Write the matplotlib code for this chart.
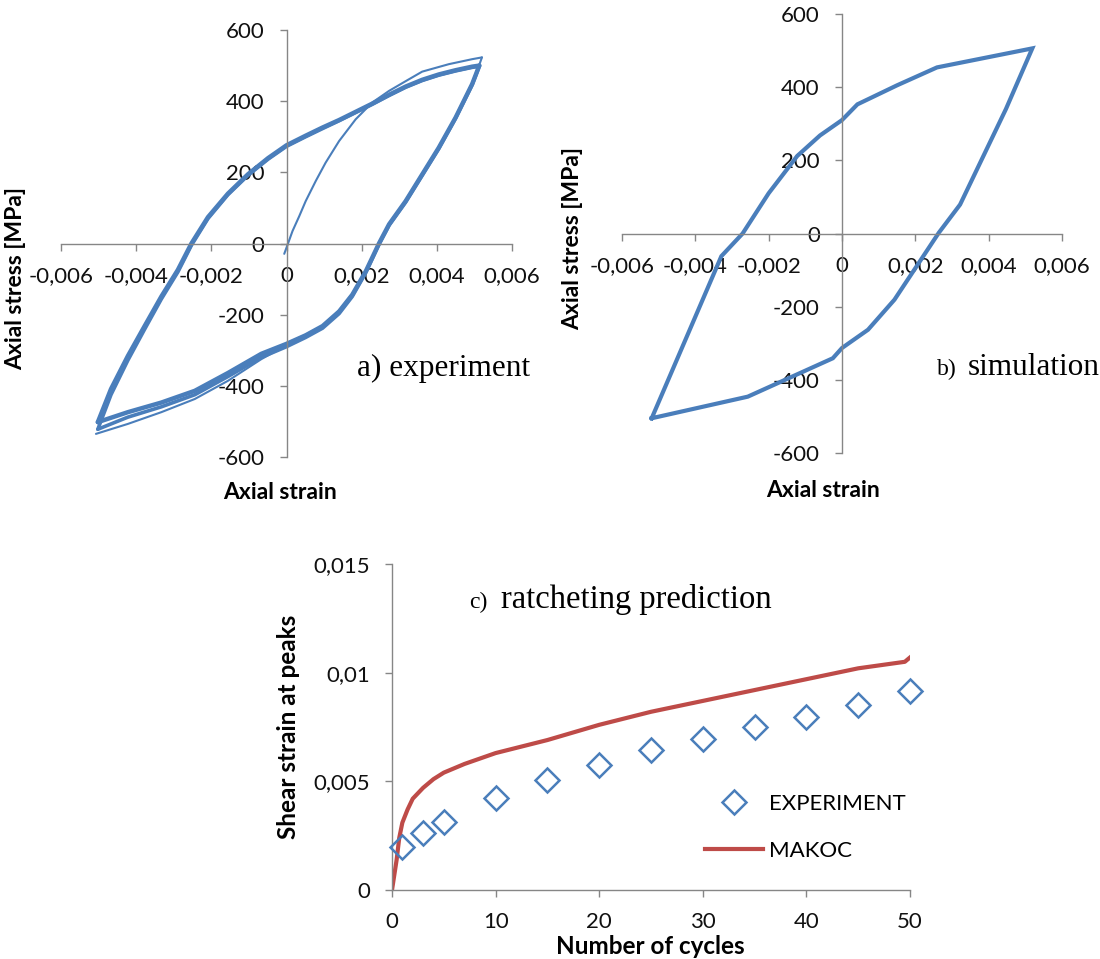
import matplotlib
matplotlib.use("Agg")
import matplotlib.pyplot as plt

# ---------------- data ----------------
# a) experiment: stabilised loop (cycle A)
exp_up_strain = [-0.00502, -0.00467, -0.00422, -0.00378, -0.00333, -0.00289, -0.00253, -0.00209, -0.00156, -0.00102,
                 -0.00049, 0.0, 0.00051, 0.00096, 0.0014, 0.00184, 0.00228, 0.00273, 0.00317, 0.00361, 0.00405,
                 0.0045, 0.00494, 0.00513]
exp_up_stress = [-502, -409, -316, -233, -149, -74, 0, 74, 140, 195, 240, 276, 303, 326, 347, 370, 393, 418, 441, 460,
                 475, 487, 497, 500]
exp_dn_strain = [0.00513, 0.00494, 0.0045, 0.00405, 0.00361, 0.00317, 0.00273, 0.00246, 0.00211, 0.00175, 0.0014,
                 0.00096, 0.00051, 0.0, -0.00067, -0.00156, -0.00244, -0.00333, -0.00422, -0.00502]
exp_dn_stress = [500, 448, 354, 269, 194, 119, 54, 0, -78, -144, -191, -232, -258, -282, -310, -364, -414, -447, -474,
                 -502]
# stabilised loop (cycle B, slightly lower)
exp_up2_stress = [-522, -425, -328, -242, -156, -80, -5, 70, 137, 192, 237, 273, 300, 323, 345, 368, 391, 416, 439,
                  458, 473, 485, 495, 498]
exp_dn2_stress = [498, 446, 352, 266, 191, 116, 51, -3, -82, -149, -197, -238, -264, -290, -320, -374, -425, -459,
                  -488, -522]
# first cycle: initial loading and first unloading (thin)
ini_strain = [-0.00006, 0.00003, 0.00016, 0.00034, 0.00051, 0.00078, 0.00104, 0.0014, 0.00184, 0.00228, 0.00273,
              0.0032, 0.00361, 0.00432, 0.00494, 0.0052]
ini_stress = [-29, -3, 35, 77, 119, 176, 227, 288, 349, 396, 429, 458, 483, 504, 518, 523]
first_dn_strain = [0.0052, 0.00497, 0.00452, 0.00406, 0.00361, 0.00317, 0.00273, 0.00246, 0.00211, 0.00175, 0.0014,
                   0.00096, 0.0004, -0.00067, -0.00156, -0.00244, -0.00333, -0.00422, -0.00507]
first_dn_stress = [523, 455, 358, 272, 196, 121, 56, 2, -76, -142, -189, -232, -262, -325, -386, -437, -474, -507, -535]

# b) simulation loop
sim_strain = [-0.00519, -0.00329, -0.00271, -0.00200, -0.00122, -0.00060, 0.0, 0.00042, 0.00150, 0.00259, 0.00519,
              0.00447, 0.00322, 0.00264, 0.00143, 0.00071, 0.0, -0.00025, -0.00257, -0.00519]
sim_stress = [-505, -62, 0, 110, 212, 268, 310, 353, 405, 454, 506,
              340, 79, 2, -181, -263, -313, -341, -446, -505]

# c) ratcheting
cyc_exp = [1, 3, 5, 10, 15, 20, 25, 30, 35, 40, 45, 50]
shear_exp = [0.00199, 0.00261, 0.00313, 0.00422, 0.00506, 0.00575, 0.00644, 0.00695, 0.00752, 0.00798, 0.00850, 0.00917]
cyc_mak = [0, 0.45, 0.7, 1.0, 1.5, 2, 3, 4, 5, 7, 10, 15, 20, 25, 30, 35, 40, 45, 49.5, 50]
shear_mak = [0, 0.0014, 0.0024, 0.0031, 0.0037, 0.0042, 0.0047, 0.0051, 0.0054, 0.0058, 0.0063, 0.0069,
             0.0076, 0.0082, 0.0087, 0.0092, 0.0097, 0.0102, 0.0105, 0.0107]

strain_ticks = [-0.006, -0.004, -0.002, 0, 0.002, 0.004, 0.006]
strain_labels = ["-0,006", "-0,004", "-0,002", "0", "0,002", "0,004", "0,006"]
stress_ticks = [-600, -400, -200, 0, 200, 400, 600]
stress_labels = ["-600", "-400", "-200", "0", "200", "400", "600"]
cyc_ticks = [0, 10, 20, 30, 40, 50]
cyc_labels = ["0", "10", "20", "30", "40", "50"]
shear_ticks = [0, 0.005, 0.01, 0.015]
shear_labels = ["0", "0,005", "0,01", "0,015"]

# ---------------- style ----------------
W, H = 1100, 959
BLUE = "#4A7EBB"
RED = "#BE4B48"
GRAY = "#868686"
SANS = ["Lato", "DejaVu Sans"]
SERIF = ["Liberation Serif", "DejaVu Serif"]
TICK_FS = 16
LAB_FS = 16.5

fig = plt.figure(figsize=(W / 100, H / 100), dpi=100)


def px_axes(x0, x1, ytop, ybot):
    return fig.add_axes([x0 / W, 1 - ybot / H, (x1 - x0) / W, (ybot - ytop) / H])


def fx(px):
    return px / W


def fy(py):
    return 1 - py / H


def style(ax, zero=True):
    for s in ["top", "right"]:
        ax.spines[s].set_visible(False)
    for s in ["left", "bottom"]:
        ax.spines[s].set_color(GRAY)
        ax.spines[s].set_linewidth(1.0)
        if zero:
            ax.spines[s].set_position("zero")
    ax.tick_params(axis="both", direction="out", length=5, width=1.0, color=GRAY,
                   pad=11, labelsize=TICK_FS, labelcolor="#111111")
    for lab in ax.get_xticklabels() + ax.get_yticklabels():
        lab.set_family(SANS)
    ax.patch.set_visible(False)


# ---------------- a) experiment ----------------
axa = px_axes(61, 512, 30, 457)
kw = dict(color=BLUE, solid_joinstyle="round", solid_capstyle="round")
axa.plot(exp_up_strain, exp_up2_stress, lw=2.6, **kw)
axa.plot(exp_dn_strain, exp_dn2_stress, lw=2.6, **kw)
axa.plot(exp_up_strain, exp_up_stress, lw=3.2, **kw)
axa.plot(exp_dn_strain, exp_dn_stress, lw=3.2, **kw)
axa.plot(ini_strain, ini_stress, lw=1.5, **kw)
axa.plot(first_dn_strain, first_dn_stress, lw=1.5, **kw)
axa.set_xlim(-0.006, 0.006)
axa.set_ylim(-600, 600)
axa.set_xticks(strain_ticks, strain_labels)
axa.set_yticks(stress_ticks, stress_labels)
style(axa)
fig.text(fx(16), fy(278), "Axial stress [MPa]", rotation=90, ha="center", va="center",
         fontsize=LAB_FS, fontweight="bold", family=SANS)
fig.text(fx(280), fy(492), "Axial strain", ha="center", va="center",
         fontsize=LAB_FS, fontweight="bold", family=SANS)
fig.text(fx(357), fy(376), "a) experiment", ha="left", va="baseline", fontsize=22.5, family=SERIF)

# ---------------- b) simulation ----------------
axb = px_axes(622, 1062, 14, 453)
axb.plot(sim_strain, sim_stress, color=BLUE, lw=3.0, solid_joinstyle="miter")
axb.set_xlim(-0.006, 0.006)
axb.set_ylim(-600, 600)
axb.set_xticks(strain_ticks, strain_labels)
axb.set_yticks(stress_ticks, stress_labels)
style(axb)
fig.text(fx(573), fy(239), "Axial stress [MPa]", rotation=90, ha="center", va="center",
         fontsize=LAB_FS, fontweight="bold", family=SANS)
fig.text(fx(823), fy(490), "Axial strain", ha="center", va="center",
         fontsize=LAB_FS, fontweight="bold", family=SANS)
fig.text(fx(937), fy(375), "b)", ha="left", va="baseline", fontsize=17, family=SERIF)
fig.text(fx(968), fy(375), "simulation", ha="left", va="baseline", fontsize=22.5, family=SERIF)

# ---------------- c) ratcheting ----------------
axc = px_axes(392, 910, 564, 890)
axc.plot(cyc_mak, shear_mak, color=RED, lw=3.0, label="MAKOC", zorder=2)
axc.plot(cyc_exp, shear_exp, linestyle="none", marker="D", markersize=12, markerfacecolor="none",
         markeredgecolor=BLUE, markeredgewidth=1.8, label="EXPERIMENT", zorder=3, clip_on=False)
axc.set_xlim(0, 50)
axc.set_ylim(0, 0.015)
axc.set_xticks(cyc_ticks, cyc_labels)
axc.set_yticks(shear_ticks, shear_labels)
style(axc, zero=False)
fig.text(fx(288), fy(727), "Shear strain at peaks", rotation=90, ha="center", va="center",
         fontsize=17.5, fontweight="bold", family=SANS)
fig.text(fx(650), fy(947), "Number of cycles", ha="center", va="center",
         fontsize=17.5, fontweight="bold", family=SANS)
fig.text(fx(469), fy(608), "c)", ha="left", va="baseline", fontsize=17, family=SERIF)
fig.text(fx(501), fy(608), "ratcheting prediction", ha="left", va="baseline", fontsize=23.5, family=SERIF)

handles, labels = axc.get_legend_handles_labels()
order = [1, 0]
leg = axc.legend([handles[i] for i in order], [labels[i] for i in order],
                 loc="upper left", bbox_to_anchor=(fx(705), fy(794)), bbox_transform=fig.transFigure,
                 frameon=False, handlelength=2.6, handletextpad=0.3, labelspacing=1.2,
                 prop={"family": SANS, "size": TICK_FS}, borderpad=0, borderaxespad=0)

fig.savefig("out.png", dpi=100)
